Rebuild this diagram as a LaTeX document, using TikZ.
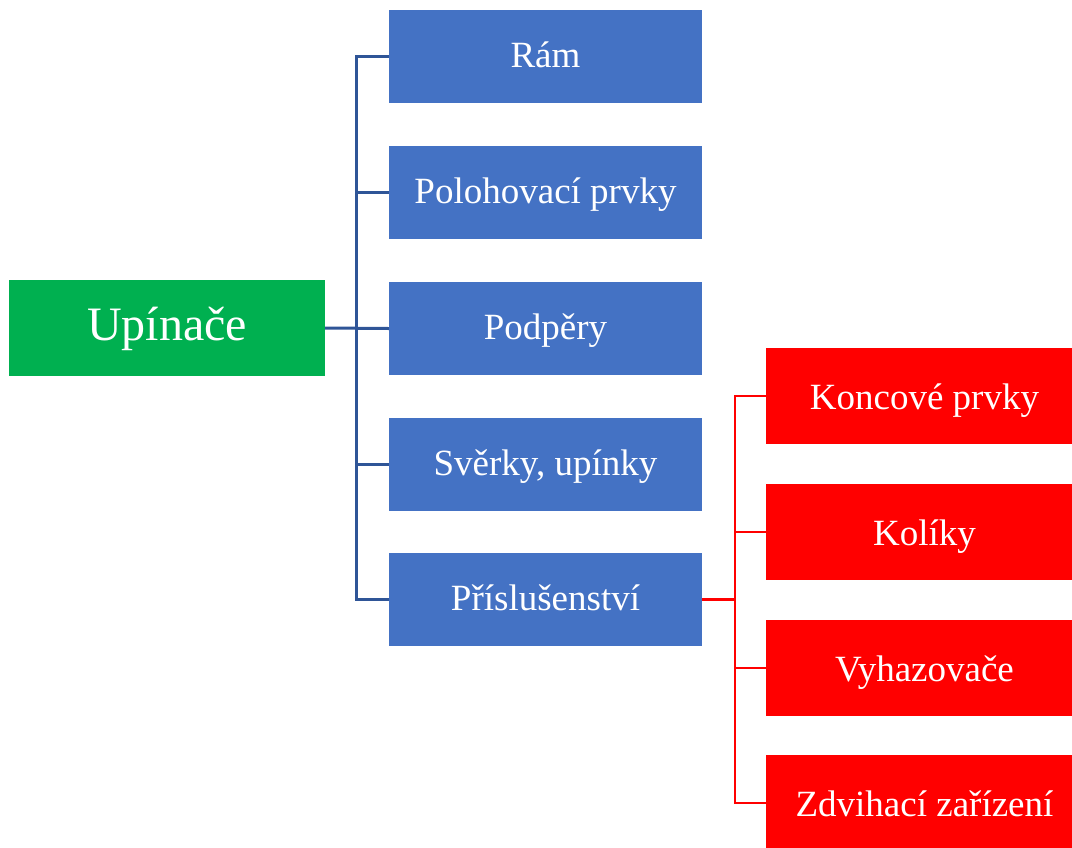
\documentclass[tikz,border=0pt]{standalone}
\usepackage{fontspec}
\setmainfont{Liberation Serif}
\definecolor{boxgreen}{HTML}{00B050}
\definecolor{boxblue}{HTML}{4472C4}
\definecolor{lineblue}{HTML}{2F5597}
\definecolor{boxred}{HTML}{FF0000}
\begin{document}
\begin{tikzpicture}[x=1pt,y=-1pt,
  root/.style={fill=boxgreen,text=white,minimum width=316pt,minimum height=96pt,inner sep=0pt,text height=25.4pt,text depth=0pt,font=\fontsize{48}{56}\selectfont},
  bluebox/.style={fill=boxblue,text=white,minimum width=313pt,minimum height=93pt,inner sep=0pt,text height=22.4pt,text depth=0pt,font=\fontsize{37}{44}\selectfont},
  redbox/.style={fill=boxred,text=white,minimum width=306pt,minimum height=96pt,inner sep=0pt,text height=26pt,text depth=0pt,font=\fontsize{37}{44}\selectfont},
  blueline/.style={draw=lineblue,line width=3pt},
  redline/.style={draw=boxred,line width=2.5pt}]
\useasboundingbox (0,0) rectangle (1072,847);
\node[root] (r) at (167,328) {Upínače};
\node[bluebox] (b1) at (545.5,56.5) {Rám};
\node[bluebox] (b2) at (545.5,192.5) {Polohovací prvky};
\node[bluebox] (b3) at (545.5,328.5) {Podpěry};
\node[bluebox] (b4) at (545.5,464.5) {Svěrky, upínky};
\node[bluebox] (b5) at (545.5,599.5) {Příslušenství};
\node[redbox] (c1) at (919,396) {\hspace*{11pt}Koncové prvky};
\node[redbox] (c2) at (919,532) {\hspace*{11pt}Kolíky};
\node[redbox] (c3) at (919,668) {\hspace*{11pt}Vyhazovače};
\node[redbox] (c4) at (919,803) {\hspace*{11pt}Zdvihací zařízení};
% blue connectors
\coordinate (bt) at (356,56.5);
\coordinate (bb) at (356,599.5);
\draw[blueline] (b1.west) -- (bt) -- (bb) -- (b5.west);
\draw[blueline] (r.east) -- (b3.west);
\draw[blueline] (356,192.5) -- (b2.west);
\draw[blueline] (356,464.5) -- (b4.west);
% red connectors
\coordinate (rt) at (735,396);
\coordinate (rb) at (735,803);
\draw[redline] (c1.west) -- (rt) -- (rb) -- (c4.west);
\draw[redline] (b5.east) -- (735,599.5);
\draw[redline] (735,532) -- (c2.west);
\draw[redline] (735,668) -- (c3.west);
\end{tikzpicture}
\end{document}
